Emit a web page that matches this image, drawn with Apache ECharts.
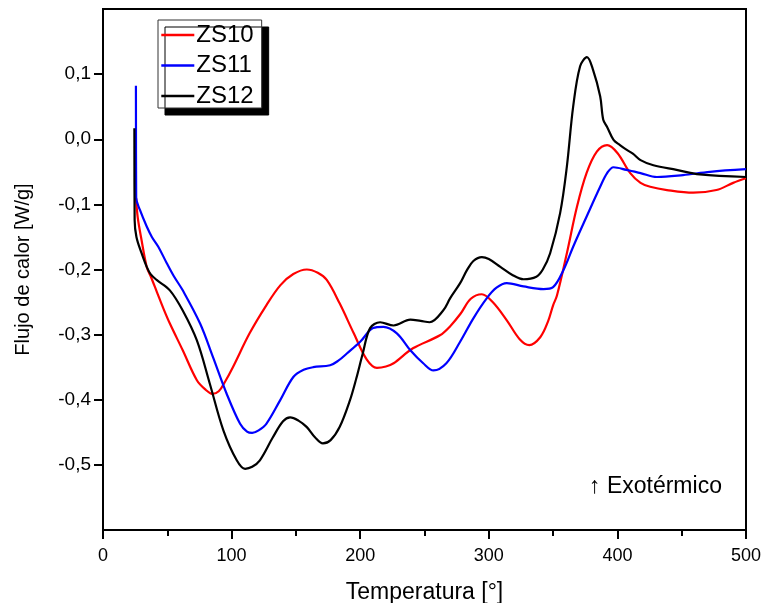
<!DOCTYPE html>
<html>
<head>
<meta charset="utf-8">
<script src="https://cdn.jsdelivr.net/npm/echarts@6/dist/echarts.min.js"></script>
<style>
  html, body { margin: 0; padding: 0; background: #fff; }
  #main { width: 762px; height: 603px; }
</style>
</head>
<body>
<div id="main"></div>
<script>
// Temperatura [°] y flujo de calor [W/g]
var zs10T = [25.7, 27, 30, 34, 37, 42, 47, 52, 62, 73, 80, 85, 90, 95, 101, 114, 127, 138, 148, 158.5, 167, 174, 184, 195, 205, 213, 220, 226, 241, 262, 270, 278, 286, 294.6, 303, 314, 324, 331.5, 340, 346, 350, 353, 360.7, 368.5, 376, 384, 392, 400, 410, 418, 425.5, 438.5, 459, 477, 490, 500];
var zs10V = [-0.09, -0.12, -0.155, -0.196, -0.21, -0.235, -0.26, -0.283, -0.324, -0.37, -0.385, -0.391, -0.387, -0.372, -0.35, -0.298, -0.255, -0.224, -0.207, -0.2, -0.205, -0.216, -0.252, -0.298, -0.338, -0.351, -0.349, -0.344, -0.321, -0.301, -0.287, -0.268, -0.245, -0.238, -0.25, -0.278, -0.307, -0.316, -0.304, -0.28, -0.255, -0.24, -0.175, -0.104, -0.052, -0.019, -0.009, -0.021, -0.052, -0.067, -0.073, -0.078, -0.082, -0.078, -0.067, -0.06];

var zs11T = [25.6, 25.8, 28.8, 34, 38, 43, 49.5, 55, 62, 75.5, 85.6, 96, 106.6, 112, 116, 121, 127, 137.7, 148, 156, 163.5, 176.6, 183, 189.6, 200, 210, 218, 228.5, 239, 249, 257, 267, 277.7, 288, 298.5, 306, 314, 327, 342.5, 350, 358, 365.6, 376, 386.6, 392, 397, 407, 418, 430.7, 451, 472, 500];
var zs11V = [0.082, -0.09, -0.109, -0.134, -0.15, -0.165, -0.19, -0.21, -0.232, -0.283, -0.335, -0.39, -0.437, -0.449, -0.451, -0.447, -0.437, -0.401, -0.365, -0.354, -0.35, -0.347, -0.34, -0.329, -0.311, -0.29, -0.288, -0.298, -0.324, -0.344, -0.355, -0.344, -0.311, -0.275, -0.244, -0.228, -0.221, -0.226, -0.23, -0.227, -0.201, -0.165, -0.119, -0.073, -0.052, -0.043, -0.047, -0.052, -0.058, -0.055, -0.05, -0.046];

var zs12T = [24.4, 24.6, 26, 30, 34, 37, 41.7, 52, 62, 73, 83, 93.6, 104, 110.5, 116, 122, 132, 140, 145.5, 152, 158.5, 165, 171, 177, 184, 192, 197, 202, 207.7, 215.5, 226, 239, 247, 254, 264.5, 270, 277.7, 283, 288, 294.6, 300, 309, 318, 327, 337, 342, 347.7, 355.5, 360.7, 365.6, 371, 376.3, 381, 386.6, 389, 392, 397, 402, 407, 412, 418, 428, 446, 464, 500];
var zs12V = [0.017, -0.124, -0.15, -0.175, -0.196, -0.207, -0.216, -0.232, -0.263, -0.309, -0.375, -0.447, -0.493, -0.506, -0.503, -0.493, -0.458, -0.433, -0.427, -0.432, -0.442, -0.458, -0.467, -0.462, -0.442, -0.401, -0.367, -0.329, -0.29, -0.281, -0.286, -0.277, -0.279, -0.281, -0.263, -0.244, -0.221, -0.201, -0.187, -0.181, -0.184, -0.196, -0.208, -0.215, -0.211, -0.2, -0.175, -0.113, -0.042, 0.05, 0.112, 0.126, 0.107, 0.066, 0.03, 0.019, -0.001, -0.009, -0.016, -0.022, -0.032, -0.04, -0.047, -0.054, -0.058];

var seriesNames = ['ZS10', 'ZS11', 'ZS12'];
var seriesColors = ['#ff0000', '#0000ff', '#000000'];
var yTicks = [-0.5, -0.4, -0.3, -0.2, -0.1, 0, 0.1];

function pairs(t, v) {
    var out = [];
    for (var i = 0; i < t.length; i++) {
        out.push([t[i], v[i]]);
    }
    return out;
}

var allData = [pairs(zs10T, zs10V), pairs(zs11T, zs11V), pairs(zs12T, zs12V)];
var font = 'Arial, "Liberation Sans", sans-serif';

var myChart = echarts.init(document.getElementById('main'));

var option = {
    animation: false,
    backgroundColor: '#fff',
    grid: {
        left: 103, right: 16, top: 9, bottom: 73,
        show: true, borderColor: '#000', borderWidth: 2,
        outerBoundsMode: 'none'
    },
    legend: {
        left: 158, top: 20,
        orient: 'vertical',
        data: seriesNames,
        itemWidth: 33, itemHeight: 20, itemGap: 6.5,
        padding: [3, 8, 0, 2],
        backgroundColor: '#fff',
        borderColor: '#333', borderWidth: 1, borderRadius: 0,
        shadowColor: '#000', shadowBlur: 0, shadowOffsetX: 7, shadowOffsetY: 7,
        itemStyle: { opacity: 0 },
        lineStyle: { width: 2.6 },
        textStyle: { fontFamily: font, fontSize: 24, color: '#000', padding: [0, 0, 0, -3] }
    },
    xAxis: {
        type: 'value',
        min: 0, max: 500, interval: 100,
        name: 'Temperatura [°]',
        nameLocation: 'middle', nameGap: 51,
        nameTextStyle: { fontFamily: font, fontSize: 23, color: '#000' },
        axisLine: { onZero: false, lineStyle: { color: '#000', width: 2 } },
        axisTick: { inside: false, length: 9, lineStyle: { color: '#000', width: 2 } },
        minorTick: { show: true, splitNumber: 2, length: 6, lineStyle: { color: '#000', width: 2 } },
        axisLabel: { fontFamily: font, fontSize: 18, color: '#000', margin: 17 },
        splitLine: { show: false }
    },
    yAxis: {
        type: 'value',
        min: -0.6, max: 0.2, interval: 0.1,
        name: 'Flujo de calor [W/g]',
        nameLocation: 'middle', nameGap: 70, nameRotate: 90,
        nameTextStyle: { fontFamily: font, fontSize: 20, color: '#000' },
        axisLine: { onZero: false, lineStyle: { color: '#000', width: 2 } },
        axisTick: { inside: false, length: 9, customValues: yTicks, lineStyle: { color: '#000', width: 2 } },
        axisLabel: {
            fontFamily: font, fontSize: 19, color: '#000', margin: 12,
            customValues: yTicks,
            formatter: function (v) {
                var r = Math.round(v * 10) / 10;
                return r.toFixed(1).replace('.', ',');
            }
        },
        splitLine: { show: false }
    },
    graphic: [{
        type: 'text',
        left: 589, top: 475,
        style: { text: '↑ Exotérmico', font: '23px ' + font, fill: '#000' }
    }],
    series: seriesNames.map(function (name, i) {
        return {
            name: name,
            type: 'line',
            data: allData[i],
            smooth: 0.35,
            symbol: 'none',
            color: seriesColors[i],
            lineStyle: { color: seriesColors[i], width: 2.2 }
        };
    })
};

myChart.setOption(option);
</script>
</body>
</html>
